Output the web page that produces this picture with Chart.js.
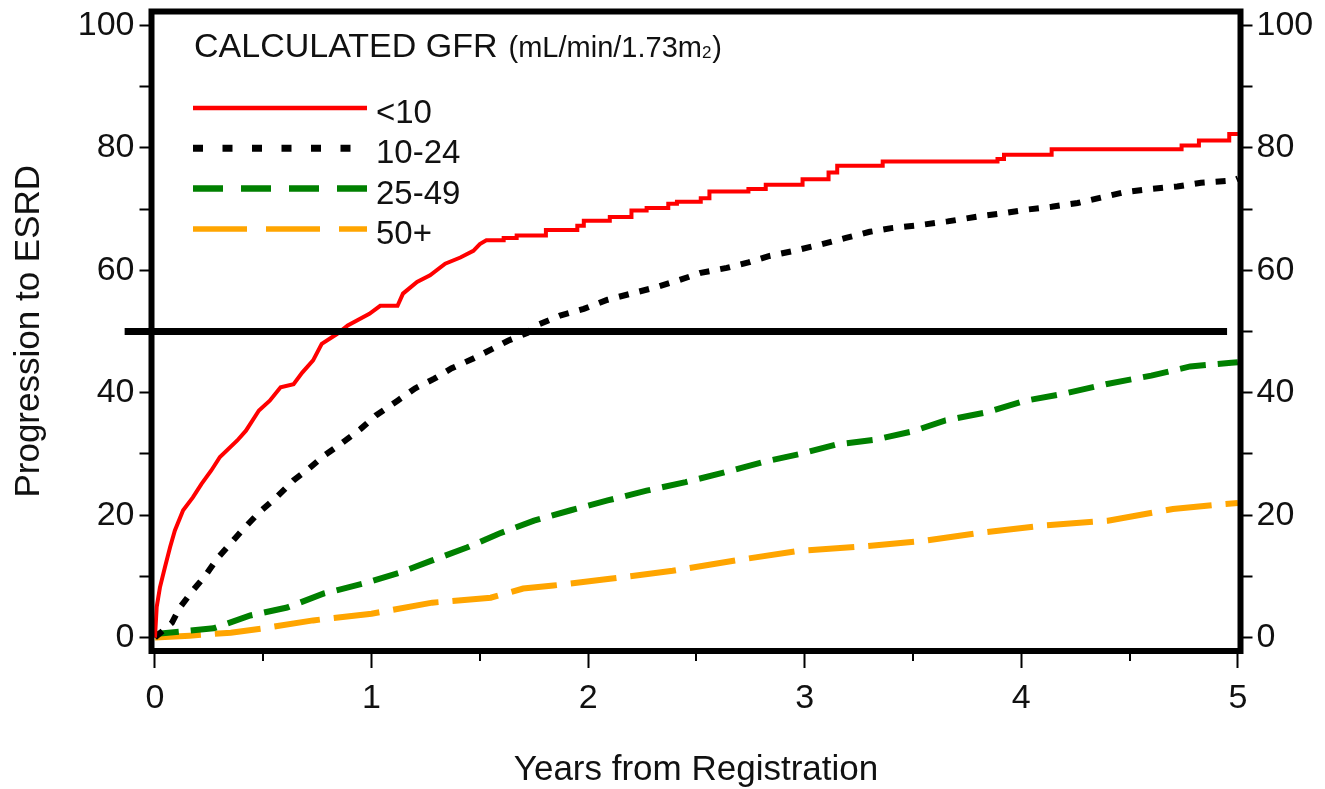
<!DOCTYPE html>
<html>
<head>
<meta charset="utf-8">
<style>
html,body{margin:0;padding:0;background:#fff;overflow:hidden}
canvas{display:block}
</style>
<script src="https://cdn.jsdelivr.net/npm/chart.js@4.4.1/dist/chart.umd.min.js"></script>
</head>
<body>
<canvas id="c" width="1325" height="789"></canvas>
<script>
// ---------- DATA ----------
const seriesLabels = ['<10', '10-24', '25-49', '50+'];

// GFR < 10 (Kaplan-Meier step curve; repeated years are step corners)
const lt10Years = [0,0.008,0.023,0.046,0.07,0.092,0.13,0.175,0.215,0.26,0.30,0.38,0.42,0.48,0.53,0.58,0.64,0.68,0.73,0.77,0.84,0.89,0.99,1.04,1.12,1.145,1.21,1.27,1.34,1.41,1.47,1.50,1.53,1.61,1.61,1.67,1.67,1.805,1.805,1.95,1.95,1.98,1.98,2.10,2.10,2.20,2.20,2.27,2.27,2.37,2.37,2.41,2.41,2.52,2.52,2.56,2.56,2.74,2.74,2.82,2.82,2.99,2.99,3.11,3.11,3.15,3.15,3.36,3.36,3.89,3.89,3.92,3.92,4.14,4.14,4.74,4.74,4.82,4.82,4.96,4.96,5.0];
const lt10Pct   = [0,5,8.2,11.5,14.8,17.5,20.8,22.9,25.1,27.3,29.5,32.2,33.8,37.1,38.7,40.9,41.4,43.3,45.3,48.0,49.6,51.0,52.9,54.2,54.2,56.2,58.1,59.2,61.1,62.1,63.2,64.3,64.9,64.9,65.3,65.3,65.7,65.7,66.6,66.6,67.3,67.3,68.1,68.1,68.7,68.7,69.8,69.8,70.2,70.2,70.9,70.9,71.2,71.2,71.8,71.8,72.9,72.9,73.3,73.3,74.0,74.0,74.9,74.9,76.0,76.0,77.1,77.1,77.8,77.8,78.2,78.2,78.9,78.9,79.8,79.8,80.4,80.4,81.2,81.2,82.3,82.3];

// GFR 10-24
const g10to24Years = [0,0.078,0.115,0.175,0.23,0.29,0.35,0.41,0.48,0.56,0.64,0.70,0.78,0.86,0.95,1.02,1.12,1.20,1.29,1.37,1.47,1.56,1.63,1.72,1.76,1.87,1.98,2.09,2.22,2.32,2.42,2.52,2.64,2.74,2.83,2.94,3.07,3.19,3.30,3.40,3.53,3.66,3.80,3.91,4.02,4.14,4.26,4.37,4.48,4.60,4.72,4.83,4.98,5.0];
const g10to24Pct   = [0,2.4,4.9,7.7,10.0,13.0,15.4,17.8,20.4,22.9,25.7,27.3,29.7,31.7,34.1,36.3,38.7,40.7,42.3,44.0,45.6,47.2,48.5,49.8,51.0,52.6,53.7,55.2,56.4,57.3,58.4,59.6,60.4,61.3,62.3,63.1,64.2,65.3,66.3,66.9,67.4,68.0,68.8,69.3,69.9,70.4,71.0,71.9,72.8,73.3,73.7,74.3,74.7,75.0];

// GFR 25-49
const g25to49Years = [0,0.01,0.27,0.44,0.61,0.78,0.96,1.13,1.28,1.44,1.59,1.75,1.92,2.09,2.27,2.45,2.62,2.81,2.98,3.14,3.32,3.50,3.65,3.84,4.02,4.19,4.39,4.60,4.78,4.97,5.0];
const g25to49Pct   = [0,0.6,1.5,3.6,4.9,7.2,8.8,10.6,12.6,14.7,17.0,19.1,20.8,22.4,24.0,25.4,26.9,28.7,30.0,31.5,32.3,33.7,35.5,36.8,38.7,39.8,41.4,42.8,44.3,44.9,45.0];

// GFR 50+
const g50plusYears = [0,0.16,0.35,0.50,0.73,1.00,1.28,1.55,1.70,1.84,2.10,2.39,2.68,2.96,3.27,3.55,3.83,4.10,4.40,4.70,4.93,5.0];
const g50plusPct   = [0,0.3,0.8,1.5,2.8,3.9,5.7,6.5,8.0,8.5,9.6,10.9,12.6,14.1,14.9,15.8,17.2,18.3,19.1,21.0,21.8,22.0];

// Axis ticks
const xTickValues = [0,1,2,3,4,5];
const xMinorTickValues = [0.5,1.5,2.5,3.5,4.5];
const yTickValues = [0,10,20,30,40,50,60,70,80,90,100];
const yLabelStep = 20;

// Reference line at 50 %
const referenceLevel = 50;
const referenceFromYear = -0.14;
const referenceToYear = 4.95;

const legendTitle = 'CALCULATED GFR';
const legendUnit = '(mL/min/1.73m';
const legendUnitSub = '2';

// ---------- STYLES ----------
const FONT = '"Liberation Sans", Arial, Helvetica, sans-serif';
const colors = ['#ff0000', '#000000', '#008000', '#ffa500'];
const plotDash = [[], [10, 11], [26, 12], [46, 14]];
const plotWidth = [4, 6, 6, 6];
const legendDash = [[], [10, 19.5], [30, 18], [54, 19]];
const legendWidth = [4.5, 7, 6.5, 5.5];

function pts(xs, ys) { return xs.map((x, i) => ({x: x, y: ys[i]})); }

const seriesData = [
  pts(lt10Years, lt10Pct),
  pts(g10to24Years, g10to24Pct),
  pts(g25to49Years, g25to49Pct),
  pts(g50plusYears, g50plusPct)
];

const decorPlugin = {
  id: 'decor',
  afterDatasetsDraw(chart) {
    const {ctx, chartArea: a, scales} = chart;
    const xs = scales.x, ys = scales.y;
    ctx.save();
    // reference line at 50
    const yRef = ys.getPixelForValue(referenceLevel);
    ctx.beginPath();
    ctx.moveTo(xs.getPixelForValue(referenceFromYear), yRef);
    ctx.lineTo(xs.getPixelForValue(referenceToYear), yRef);
    ctx.lineWidth = 7;
    ctx.strokeStyle = '#000';
    ctx.setLineDash([]);
    ctx.stroke();
    // frame
    ctx.lineWidth = 6;
    ctx.lineJoin = 'miter';
    ctx.strokeRect(a.left, a.top, a.right - a.left, a.bottom - a.top);
    // minor x ticks
    ctx.lineWidth = 2;
    xMinorTickValues.forEach(v => {
      const px = Math.round(xs.getPixelForValue(v));
      ctx.beginPath();
      ctx.moveTo(px, a.bottom);
      ctx.lineTo(px, a.bottom + 10);
      ctx.stroke();
    });
    // legend
    const lx0 = 193, lx1 = 367, tx = 376;
    ctx.fillStyle = '#111';
    ctx.textBaseline = 'alphabetic';
    ctx.textAlign = 'left';
    ctx.font = '34px ' + FONT;
    ctx.fillText(legendTitle, 194, 57);
    let ux = 194 + ctx.measureText(legendTitle).width + 11;
    ctx.font = '29px ' + FONT;
    ctx.fillText(legendUnit, ux, 57);
    ux += ctx.measureText(legendUnit).width;
    ctx.font = '17px ' + FONT;
    ctx.fillText(legendUnitSub, ux, 58);
    ux += ctx.measureText(legendUnitSub).width;
    ctx.font = '29px ' + FONT;
    ctx.fillText(')', ux + 1, 57);

    chart.data.datasets.forEach((ds, i) => {
      const ly = 108 + i * 40.3;
      ctx.beginPath();
      ctx.setLineDash(legendDash[i]);
      ctx.lineCap = 'butt';
      ctx.strokeStyle = ds.borderColor;
      ctx.lineWidth = legendWidth[i];
      ctx.moveTo(lx0, ly);
      ctx.lineTo(lx1, ly);
      ctx.stroke();
      ctx.setLineDash([]);
      ctx.fillStyle = '#111';
      ctx.font = '33px ' + FONT;
      ctx.fillText(ds.label, tx, ly + 15);
    });
    ctx.restore();
  }
};

const tickFont = {family: FONT, size: 34};
const titleFont = {family: FONT, size: 35};

function yAxis(position, width, withTitle, pad) {
  return {
    type: 'linear',
    position: position,
    min: -2.2,
    max: 102.3,
    afterBuildTicks: s => { s.ticks = yTickValues.map(v => ({value: v})); },
    afterFit: s => { s.width = width; s.paddingTop = 0; s.paddingBottom = 0; },
    ticks: {
      font: tickFont,
      color: '#111',
      padding: pad,
      autoSkip: false,
      callback: v => (v % yLabelStep === 0 ? String(v) : '')
    },
    grid: {
      display: true,
      drawOnChartArea: false,
      drawTicks: true,
      tickLength: 12,
      tickWidth: 2,
      tickColor: '#000',
      color: '#000'
    },
    border: {display: false},
    title: {
      display: withTitle,
      text: 'Progression to ESRD',
      font: titleFont,
      color: '#111',
      padding: {top: 8, bottom: 0}
    }
  };
}

new Chart(document.getElementById('c'), {
  type: 'line',
  data: {
    datasets: seriesLabels.map((lab, i) => ({
      label: lab,
      data: seriesData[i],
      borderColor: colors[i],
      backgroundColor: colors[i],
      borderWidth: plotWidth[i],
      borderDash: plotDash[i],
      borderCapStyle: 'butt',
      borderJoinStyle: 'miter',
      pointRadius: 0,
      tension: 0,
      fill: false,
      yAxisID: 'y'
    }))
  },
  options: {
    responsive: false,
    animation: false,
    devicePixelRatio: 1,
    layout: {padding: {top: 11.5, left: 0, right: 0, bottom: 0}},
    plugins: {legend: {display: false}, tooltip: {enabled: false}},
    scales: {
      x: {
        type: 'linear',
        position: 'bottom',
        min: -0.016,
        max: 5.012,
        afterBuildTicks: s => { s.ticks = xTickValues.map(v => ({value: v})); },
        afterFit: s => { s.height = 138; s.paddingLeft = 0; s.paddingRight = 0; },
        ticks: {
          font: tickFont,
          color: '#111',
          padding: 10,
          maxRotation: 0,
          autoSkip: false,
          callback: v => String(v)
        },
        grid: {
          display: true,
          drawOnChartArea: false,
          drawTicks: true,
          tickLength: 17,
          tickWidth: 2,
          tickColor: '#000',
          color: '#000'
        },
        border: {display: false},
        title: {
          display: true,
          text: 'Years from Registration',
          font: titleFont,
          color: '#111',
          padding: {top: 0, bottom: -2}
        }
      },
      y: yAxis('left', 151.5, true, 5),
      y2: yAxis('right', 84.5, false, 4)
    }
  },
  plugins: [decorPlugin]
});
</script>
</body>
</html>
